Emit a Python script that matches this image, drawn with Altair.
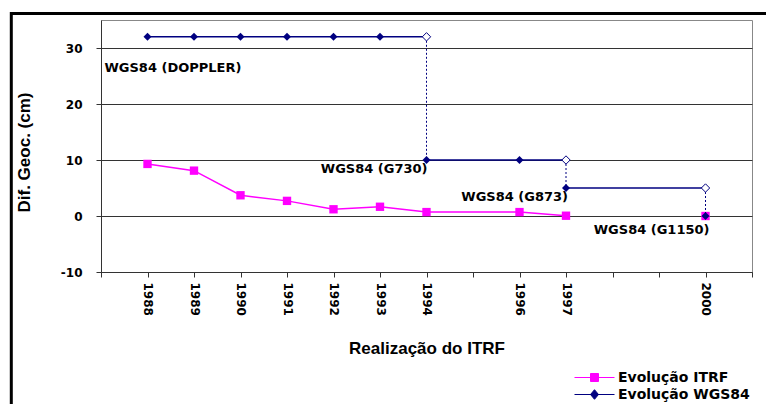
import altair as alt
import pandas as pd

# ---- data ----
itrf_year = [1988, 1989, 1990, 1991, 1992, 1993, 1994, 1996, 1997, 2000]
itrf_val = [9.3, 8.1, 3.7, 2.7, 1.2, 1.65, 0.7, 0.7, 0.05, 0.0]
itrf_seg = ["a", "a", "a", "a", "a", "a", "a", "a", "a", "b"]

wgs_year = [1988, 1989, 1990, 1991, 1992, 1993, 1994, 1994, 1996, 1997, 1997, 2000, 2000]
wgs_val = [32, 32, 32, 32, 32, 32, 32, 10, 10, 10, 5, 5, 0]
wgs_real = ["DOPPLER"] * 7 + ["G730"] * 3 + ["G873"] * 2 + ["G1150"]
wgs_marker = ["filled"] * 6 + ["open"] + ["filled", "filled", "open"] + ["filled", "open"] + ["filled"]

step_year = [1994, 1997, 2000]
step_from = [32, 10, 5]
step_to = [10, 5, 0]

label_text = ["WGS84 (DOPPLER)", "WGS84 (G730)", "WGS84 (G873)", "WGS84 (G1150)"]
label_year = [1988, 1994, 1997, 2000]
label_val = [32, 10, 5, 0]

tick_years = list(range(1987, 2002))
label_years = [1988, 1989, 1990, 1991, 1992, 1993, 1994, 1996, 1997, 2000]
y_ticks = [-10, 0, 10, 20, 30]

series_names = ["Evolução ITRF", "Evolução WGS84"]

MAGENTA = "#FF00FF"
NAVY = "#000080"

itrf = pd.DataFrame({"year": itrf_year, "val": itrf_val, "seg": itrf_seg})
wgs = pd.DataFrame({"year": wgs_year, "val": wgs_val, "real": wgs_real, "marker": wgs_marker})
steps = pd.DataFrame({"year": step_year, "v1": step_from, "v2": step_to})
labels = pd.DataFrame({"year": label_year, "val": label_val, "text": label_text})
legend_df = pd.DataFrame({"series": series_names, "year": [None, None], "val": [None, None]})

label_set = ",".join(str(v) for v in label_years)

x_scale = alt.Scale(domain=[1987, 2001], nice=False, zero=False)
y_scale = alt.Scale(domain=[-10, 35], nice=False, zero=False)

x_axis = alt.Axis(
    title="Realização do ITRF",
    values=tick_years,
    labelExpr=f"indexof([{label_set}], datum.value) >= 0 ? '' + datum.value : ''",
    labelAngle=90,
    labelAlign="left",
    labelBaseline="middle",
    labelPadding=5,
    labelFont="DejaVu Sans",
    labelFontWeight="bold",
    labelFontSize=12,
    labelColor="black",
    tickSize=5,
    tickColor="#333",
    domainColor="#333",
    grid=False,
    titleFont="Liberation Sans",
    titleFontSize=17,
    titleFontWeight="bold",
    titleColor="black",
    titleBaseline="alphabetic",
    titleY=81,
)

y_axis = alt.Axis(
    title="Dif. Geoc. (cm)",
    values=y_ticks,
    labelExpr="datum.value < 0 ? '-' + abs(datum.value) : '' + datum.value",
    labelFont="DejaVu Sans",
    labelFontWeight="bold",
    labelFontSize=12,
    labelColor="black",
    labelPadding=14,
    tickSize=5,
    tickColor="#333",
    domainColor="#333",
    grid=True,
    gridColor="#333",
    gridWidth=1.2,
    titleFont="Liberation Sans",
    titleFontSize=17,
    titleFontWeight="bold",
    titleColor="black",
    titleAngle=270,
    titleAlign="center",
    titleBaseline="alphabetic",
    titleX=-72,
    titleY=132,
)

X = alt.X("year:Q", scale=x_scale, axis=x_axis)
Y = alt.Y("val:Q", scale=y_scale, axis=y_axis)

itrf_line = alt.Chart(itrf).mark_line(color=MAGENTA, strokeWidth=1.5).encode(
    x=X, y=Y, detail="seg:N"
)
itrf_pts = alt.Chart(itrf).mark_point(
    shape="square", filled=True, color=MAGENTA, size=70, opacity=1
).encode(x="year:Q", y="val:Q")

wgs_line = alt.Chart(wgs).mark_line(color=NAVY, strokeWidth=1.5).encode(
    x="year:Q", y="val:Q", detail="real:N"
)
step_rules = alt.Chart(steps).mark_rule(
    color=NAVY, strokeWidth=1, strokeDash=[2, 2]
).encode(x="year:Q", y="v1:Q", y2="v2:Q")
wgs_open = alt.Chart(wgs).transform_filter(alt.datum.marker == "open").mark_point(
    shape="diamond", filled=False, fill="white", stroke=NAVY, strokeWidth=1, size=70, opacity=1
).encode(x="year:Q", y="val:Q")
wgs_filled = alt.Chart(wgs).transform_filter(alt.datum.marker == "filled").mark_point(
    shape="diamond", filled=True, color=NAVY, size=64, opacity=1
).encode(x="year:Q", y="val:Q")

text_style = dict(font="DejaVu Sans", fontWeight="bold", fontSize=13, color="black", baseline="middle")
label_offsets = {
    "WGS84 (DOPPLER)": dict(align="left", dx=-43, dy=31),
    "WGS84 (G730)": dict(align="right", dx=1, dy=9),
    "WGS84 (G873)": dict(align="right", dx=2, dy=9),
    "WGS84 (G1150)": dict(align="right", dx=4, dy=14),
}
text_layers = []
for t in label_text:
    text_layers.append(
        alt.Chart(labels).transform_filter(alt.datum.text == t).mark_text(
            **text_style, **label_offsets[t]
        ).encode(x="year:Q", y="val:Q", text="text:N")
    )

legend_layer = alt.Chart(legend_df).mark_point(opacity=1, strokeWidth=1).encode(
    x="year:Q",
    y="val:Q",
    fill=alt.Fill("series:N", scale=alt.Scale(domain=series_names, range=[MAGENTA, NAVY]), legend=alt.Legend(title=None)),
    stroke=alt.Stroke("series:N", scale=alt.Scale(domain=series_names, range=[MAGENTA, NAVY]), legend=alt.Legend(title=None)),
    shape=alt.Shape(
        "series:N",
        scale=alt.Scale(
            domain=series_names,
            range=[
                "M-2.5,0H2.5M-0.5,-0.5H0.5V0.5H-0.5Z",
                "M-2.5,0H2.5M0,-0.6L0.5,0L0,0.6L-0.5,0Z",
            ],
        ),
        legend=alt.Legend(title=None),
    ),
)

frame = alt.Chart(pd.DataFrame({"k": [0]})).mark_rect(
    fill=None, stroke="black", strokeWidth=3
).encode(
    x=alt.value(-89.7), x2=alt.value(720), y=alt.value(-6.5), y2=alt.value(430)
)

chart = alt.layer(
    itrf_line, itrf_pts, wgs_line, step_rules, wgs_open, wgs_filled,
    *text_layers, legend_layer, frame
).properties(
    width=651,
    height=252,
    padding={"left": 93, "top": 12, "right": 14, "bottom": 132},
    autosize=alt.AutoSizeParams(type="none"),
    background="white",
).configure_view(
    stroke="#888", strokeWidth=1
).configure_legend(
    orient="none",
    legendX=485,
    legendY=349,
    padding=0,
    rowPadding=1,
    labelOffset=15,
    symbolSize=256,
    symbolStrokeWidth=1,
    labelFont="DejaVu Sans",
    labelFontWeight="bold",
    labelFontSize=14,
    labelColor="black",
)

chart.save("out.html", embed_options={"renderer": "svg", "actions": False})
